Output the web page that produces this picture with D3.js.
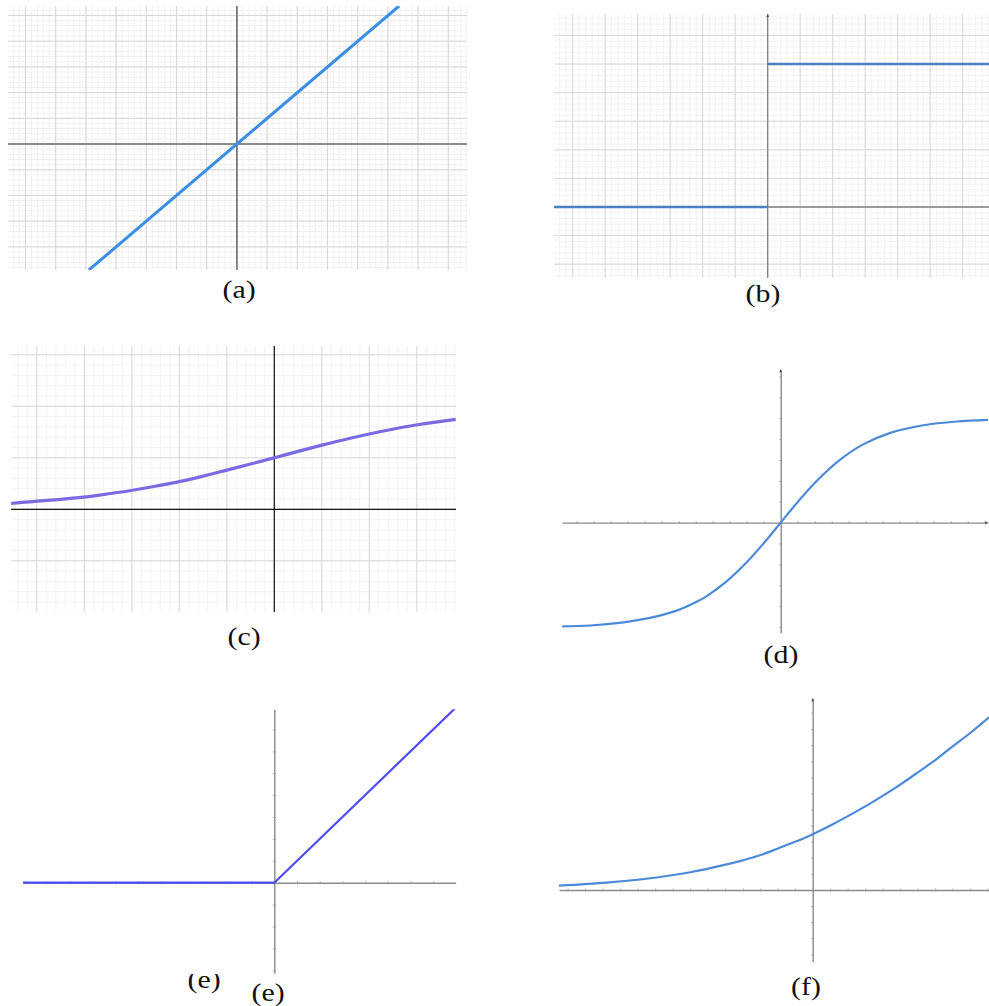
<!DOCTYPE html>
<html>
<head>
<meta charset="utf-8">
<script src="https://cdn.jsdelivr.net/npm/d3@7"></script>
<style>
  body { margin: 0; background: #fff; }
  svg { display: block; }
</style>
</head>
<body>
<svg id="chart" width="989" height="1006"></svg>
<script>
// panel captions
const panelLabels = ['(a)', '(b)', '(c)', '(d)', '(e)', '(e)', '(f)'];

// (a) linear
const linearX = [-4.9, 5.37];
const linearY = [-4.9, 5.37];

// (b) binary step
const stepLowX = [-6.58, 0];
const stepLowY = [0, 0];
const stepHighX = [0, 6.81];
const stepHighY = [1, 1];

// (c) sigmoid
const sigmoidX = [-2.77, -2.54, -2.09, -1.84, -1.49, -1.24, -1.0, -0.78, -0.5, -0.26, 0, 0.27, 0.49, 0.8, 1.15, 1.49, 1.91];
const sigmoidY = [0.058, 0.075, 0.11, 0.138, 0.185, 0.226, 0.268, 0.315, 0.38, 0.437, 0.5, 0.567, 0.62, 0.69, 0.76, 0.818, 0.872];

// (d) tanh
const tanhX = [-2.57, -2.24, -1.85, -1.6, -1.46, -1.3, -1.19, -1.03, -0.87, -0.64, -0.4, -0.16, 0, 0.19, 0.42, 0.7, 0.97, 1.29, 1.68, 2.07, 2.44];
const tanhY = [-0.994, -0.985, -0.955, -0.922, -0.898, -0.862, -0.831, -0.774, -0.703, -0.565, -0.38, -0.159, 0, 0.188, 0.397, 0.604, 0.75, 0.86, 0.933, 0.969, 0.985];

// (e) ReLU
const reluX = [-11.07, 0, 8.0];
const reluY = [0, 0, 8.0];

// (f) softplus
const softplusX = [-2.9, -2.354, -2.0, -1.783, -1.4, -1.02, -0.82, -0.64, -0.45, -0.26, -0.12, 0, 0.23, 0.464, 0.65, 0.846, 1.03, 1.226, 1.42, 1.607, 1.8, 2.015];
const softplusY = [0.053, 0.091, 0.127, 0.155, 0.22, 0.308, 0.362, 0.418, 0.492, 0.575, 0.634, 0.693, 0.817, 0.955, 1.07, 1.2, 1.33, 1.48, 1.63, 1.79, 1.95, 2.145];

const svg = d3.select('#chart');
const defs = svg.append('defs');

const zip = (xs, ys) => xs.map((v, i) => ({x: v, y: ys[i]}));

const steps = (d, step) => {
  const lo = Math.ceil(Math.min(d[0], d[1]) / step - 1e-9);
  const hi = Math.floor(Math.max(d[0], d[1]) / step + 1e-9);
  return d3.range(lo, hi + 1).map(i => +(i * step).toFixed(6));
};

function makePanel(id, xDomain, xRange, yDomain, yRange) {
  const x = d3.scaleLinear().domain(xDomain).range(xRange);
  const y = d3.scaleLinear().domain(yDomain).range(yRange);
  defs.append('clipPath').attr('id', 'clip-' + id)
    .append('rect')
    .attr('x', xRange[0]).attr('y', yRange[1])
    .attr('width', xRange[1] - xRange[0]).attr('height', yRange[0] - yRange[1]);
  const g = svg.append('g').attr('class', 'panel-' + id);
  return {x, y, g, id};
}

function drawGrid(p, xStep, yStep, color, width) {
  const [x0, x1] = p.x.range();
  const [y1, y0] = p.y.range();
  const gg = p.g.append('g');
  gg.selectAll('.v').data(steps(p.x.domain(), xStep)).enter().append('line')
    .attr('x1', d => p.x(d)).attr('x2', d => p.x(d))
    .attr('y1', y0).attr('y2', y1)
    .attr('stroke', color).attr('stroke-width', width);
  gg.selectAll('.h').data(steps(p.y.domain(), yStep)).enter().append('line')
    .attr('y1', d => p.y(d)).attr('y2', d => p.y(d))
    .attr('x1', x0).attr('x2', x1)
    .attr('stroke', color).attr('stroke-width', width);
}

function drawPlainAxes(p, color, width) {
  const [x0, x1] = p.x.range();
  const [y1, y0] = p.y.range();
  p.g.append('line').attr('x1', x0).attr('x2', x1).attr('y1', p.y(0)).attr('y2', p.y(0))
    .attr('stroke', color).attr('stroke-width', width);
  p.g.append('line').attr('x1', p.x(0)).attr('x2', p.x(0)).attr('y1', y0).attr('y2', y1)
    .attr('stroke', color).attr('stroke-width', width);
}

// axes with tiny tick marks crossing the line
function drawTickAxes(p, xStep, yStep) {
  const xa = p.g.append('g').attr('transform', `translate(0,${p.y(0)})`)
    .call(d3.axisBottom(p.x).tickValues(steps(p.x.domain(), xStep).filter(v => v !== 0))
      .tickSizeInner(1.5).tickSizeOuter(0).tickFormat(''));
  xa.selectAll('.tick line').attr('y1', -1.5).attr('stroke', '#999').attr('stroke-width', 0.8);
  xa.select('.domain').attr('stroke', '#8a8a8a').attr('stroke-width', 1.4);

  const ya = p.g.append('g').attr('transform', `translate(${p.x(0)},0)`)
    .call(d3.axisLeft(p.y).tickValues(steps(p.y.domain(), yStep).filter(v => v !== 0))
      .tickSizeInner(1.5).tickSizeOuter(0).tickFormat(''));
  ya.selectAll('.tick line').attr('x1', 1.5).attr('stroke', '#999').attr('stroke-width', 0.8);
  ya.select('.domain').attr('stroke', '#8a8a8a').attr('stroke-width', 1.4);
}

function arrowUp(p) {
  const cx = p.x(0), top = p.y.range()[1];
  p.g.append('path').attr('d', `M${cx - 1.5},${top + 3}L${cx},${top}L${cx + 1.5},${top + 3}Z`).attr('fill', '#555');
}
function arrowRight(p) {
  const cy = p.y(0), right = p.x.range()[1];
  p.g.append('path').attr('d', `M${right - 3},${cy - 1.5}L${right},${cy}L${right - 3},${cy + 1.5}Z`).attr('fill', '#555');
}

function drawCurve(p, data, color, width, curve) {
  const line = d3.line().x(d => p.x(d.x)).y(d => p.y(d.y)).curve(curve || d3.curveLinear);
  p.g.append('path').datum(data)
    .attr('clip-path', `url(#clip-${p.id})`)
    .attr('fill', 'none').attr('stroke', color).attr('stroke-width', width)
    .attr('stroke-linejoin', 'round').attr('d', line);
}

// captions are slightly stretched sideways in the original figure
function caption(text, cx, baseline) {
  return svg.append('g')
    .attr('transform', `translate(${cx},${baseline})`)
    .append('text')
    .attr('transform', 'scale(1.15,1)')
    .attr('text-anchor', 'middle')
    .style('font-family', '"Liberation Serif"')
    .style('font-size', '26px')
    .attr('fill', '#111')
    .text(text);
}

const smooth = d3.curveCatmullRom.alpha(0.5);

// (a)
const pa = makePanel('a', [-7.58, 7.62], [8, 467], [-4.9, 5.37], [270, 6]);
drawGrid(pa, 0.2, 0.2, '#f1f1f1', 1);
drawGrid(pa, 1, 1, '#d6d6d6', 1);
drawPlainAxes(pa, '#6e6e6e', 1.6);
drawCurve(pa, zip(linearX, linearY), '#3a8ee3', 3);
caption(panelLabels[0], 239, 298);

// (b)
const pb = makePanel('b', [-6.575, 6.81], [554, 989], [-0.4965, 1.35], [278, 14]);
drawGrid(pb, 0.2, 0.04, '#f2f2f2', 1);
drawGrid(pb, 1, 0.2, '#d9d9d9', 1);
drawPlainAxes(pb, '#808080', 1.3);
arrowUp(pb);
drawCurve(pb, zip(stepLowX, stepLowY), '#4a7fc1', 2.5);
drawCurve(pb, zip(stepHighX, stepHighY), '#4a7fc1', 2.5);
caption(panelLabels[1], 763, 302);

// (c)
const pc = makePanel('c', [-2.772, 1.913], [11, 456], [-0.997, 1.585], [612, 346]);
drawGrid(pc, 0.1, 0.1, '#f3f3f3', 1);
drawGrid(pc, 0.5, 0.5, '#d9d9d9', 1);
drawPlainAxes(pc, '#111', 1.2);
drawCurve(pc, zip(sigmoidX, sigmoidY), '#7b6be3', 3.2, smooth);
caption(panelLabels[2], 244, 645);

// (d)
const pd = makePanel('d', [-2.573, 2.439], [562, 988], [-1.054, 1.469], [632.7, 369.3]);
drawTickAxes(pd, 0.2, 0.2);
arrowUp(pd);
arrowRight(pd);
drawCurve(pd, zip(tanhX, tanhY), '#4a8ad9', 2.2, smooth);
caption(panelLabels[3], 781, 663);

// (e)
const pe = makePanel('e', [-11.07, 7.99], [23, 455.7], [-4.137, 7.918], [973.3, 709.3]);
drawTickAxes(pe, 1, 1);
drawCurve(pe, zip(reluX, reluY), '#4f4cf5', 2.2);
defs.append('clipPath').attr('id', 'clip-cap-e')
  .append('rect').attr('x', 150).attr('y', 974).attr('width', 110).attr('height', 40);
svg.append('g').attr('clip-path', 'url(#clip-cap-e)')
  .node().appendChild(caption(panelLabels[4], 204, 988).node().parentNode);
caption(panelLabels[5], 268, 1001);

// (f)
const pf = makePanel('f', [-2.899, 2.015], [559, 989], [-0.891, 2.381], [961.7, 698.3]);
drawTickAxes(pf, 0.2, 0.2);
arrowUp(pf);
drawCurve(pf, zip(softplusX, softplusY), '#4a8ad9', 2.2, smooth);
caption(panelLabels[6], 806, 995);
</script>
</body>
</html>
